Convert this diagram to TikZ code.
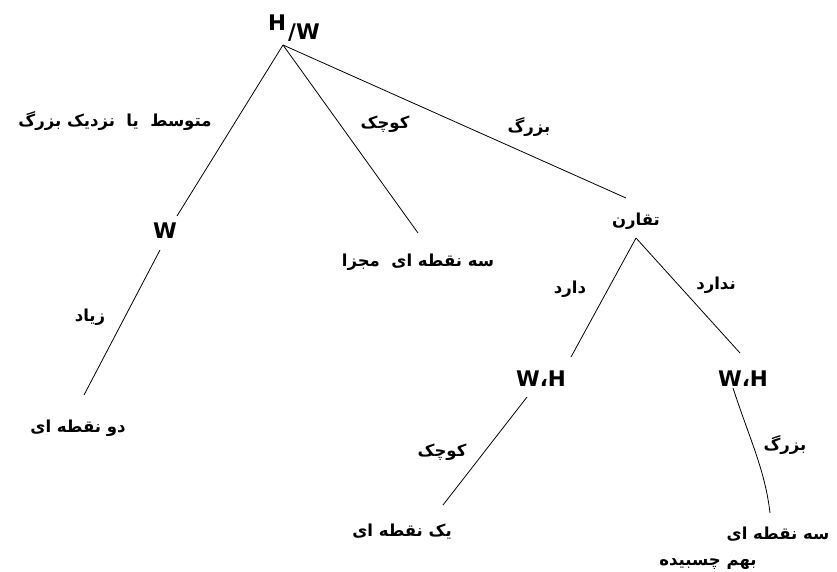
\documentclass[tikz,border=0pt]{standalone}
\usepackage{fontspec}
\setmainfont{DejaVu Sans}
\newfontfamily\arabicfont[Script=Arabic]{DejaVu Sans}
\TeXXeTstate=1
\newcommand\fatext[1]{\beginR #1\endR}
\begin{document}
\begin{tikzpicture}[x=1pt,y=-1pt,
  fa/.style={font=\arabicfont\bfseries\fontsize{16.5}{19}\selectfont, inner sep=0pt},
  lat/.style={font=\bfseries\fontsize{21.5}{24}\selectfont, inner sep=0pt},
  edge/.style={draw=black, line width=0.8pt}]
\useasboundingbox (0,0) rectangle (837,571);

% ratio node at the top
\node[lat] (hH) at (277,23) {H};
\node[lat] (hW) at (304,33) {/W};

% second level
\node[lat] (w) at (165,231) {W};
\node[fa] (mojza) at (418,262) {\fatext{سه نقطه ای\ \ مجزا}};
\node[fa] (taqaron) at (636,221) {\fatext{تقارن}};

% third level
\node[fa] (do) at (78,428) {\fatext{دو نقطه ای}};
\node[lat] (whl) at (541,379) {W،H};
\node[lat] (whr) at (743,379) {W،H};

% leaves
\node[fa] (yek) at (402,532) {\fatext{یک نقطه ای}};
\node[fa] (se) at (778,534) {\fatext{سه نقطه ای}};
\node[fa] (behamr) at (708,564) {\fatext{بهم چسبیده}};

% connector end points
\coordinate (root) at (283,45);
\coordinate (wtop) at (177,216);
\coordinate (wbot) at (160,250);
\coordinate (dotop) at (84,395);
\coordinate (mtop) at (418,233);
\coordinate (ttop) at (626,198);
\coordinate (tbot) at (636,238);
\coordinate (whltop) at (571,357);
\coordinate (whrtop) at (740,353);
\coordinate (whlbot) at (527,397);
\coordinate (whrbot) at (733,388);
\coordinate (yektop) at (443,505);
\coordinate (setop) at (770,513);

\draw[edge] (root) -- (wtop);
\draw[edge] (root) -- (mtop);
\draw[edge] (root) -- (ttop);
\draw[edge] (wbot) -- (dotop);
\draw[edge] (tbot) -- (whltop);
\draw[edge] (tbot) -- (whrtop);
\draw[edge] (whlbot) -- (yektop);
\draw[edge] (whrbot) .. controls (750,440) and (765,470) .. (setop);

% edge labels
\node[fa] at (115,121) {\fatext{متوسط\ \ یا\ \ نزدیک بزرگ}};
\node[fa] at (385,124) {\fatext{کوچک}};
\node[fa] at (529,127) {\fatext{بزرگ}};
\node[fa] at (90,317) {\fatext{زیاد}};
\node[fa] at (570,289) {\fatext{دارد}};
\node[fa] at (716,285) {\fatext{ندارد}};
\node[fa] at (442,452) {\fatext{کوچک}};
\node[fa] at (785,445) {\fatext{بزرگ}};
\end{tikzpicture}
\end{document}
